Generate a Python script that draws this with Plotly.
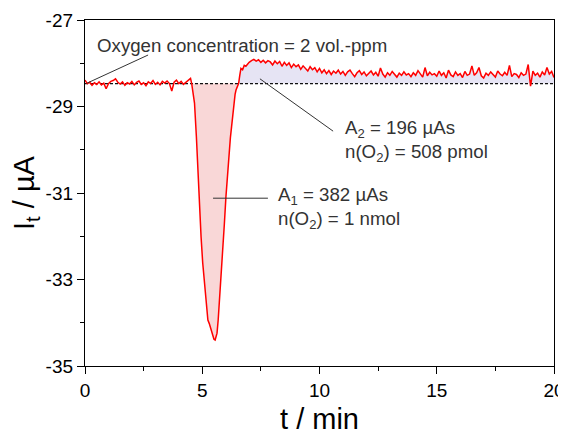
import plotly.graph_objects as go

# ---------------- data ----------------
baseline = -28.47

t_pre = [0.0, 0.1, 0.2, 0.3, 0.4, 0.5, 0.6, 0.7, 0.8, 0.9, 1.0, 1.1, 1.2, 1.3, 1.4, 1.5,
         1.6, 1.7, 1.8, 1.9, 2.0, 2.1, 2.2, 2.3, 2.4, 2.5, 2.6, 2.7, 2.8, 2.9, 3.0, 3.1,
         3.2, 3.3, 3.4, 3.5, 3.6, 3.7, 3.8, 3.9, 4.0, 4.1, 4.2, 4.3, 4.4, 4.5]
i_pre = [-28.39, -28.47, -28.44, -28.51, -28.45, -28.49, -28.43, -28.50, -28.46, -28.59,
         -28.47, -28.42, -28.40, -28.36, -28.44, -28.48, -28.43, -28.51, -28.45, -28.48,
         -28.42, -28.50, -28.44, -28.41, -28.49, -28.45, -28.52, -28.43, -28.47, -28.40,
         -28.49, -28.44, -28.50, -28.42, -28.46, -28.41, -28.47, -28.64, -28.44, -28.39,
         -28.47, -28.42, -28.49, -28.44, -28.41, -28.35]

t_dip = [4.55, 4.60, 4.67, 4.75, 4.81, 4.88, 4.95, 5.02, 5.10, 5.17, 5.24, 5.30, 5.34,
         5.40, 5.45, 5.50, 5.55, 5.60, 5.63, 5.68, 5.73, 5.80, 5.87, 5.94, 6.01, 6.08,
         6.16, 6.20, 6.25, 6.30, 6.34, 6.40, 6.44, 6.50, 6.55]
i_dip = [-28.47, -28.65, -28.92, -29.70, -30.47, -31.25, -32.02, -32.62, -33.17, -33.60,
         -33.94, -34.02, -34.10, -34.24, -34.33, -34.38, -34.40, -34.33, -34.24, -33.93,
         -33.54, -32.97, -32.39, -31.74, -31.09, -30.50, -29.94, -29.72, -29.47, -29.18,
         -28.92, -28.72, -28.62, -28.54, -28.47]

t_post = [6.55, 6.60, 6.65, 6.72, 6.79, 6.86, 6.93, 7.0,
          7.1, 7.2, 7.3, 7.4, 7.5, 7.6, 7.7, 7.8, 7.9, 8.0, 8.1, 8.2, 8.3, 8.4, 8.5, 8.6,
          8.7, 8.8, 8.9, 9.0, 9.1, 9.2, 9.3, 9.4, 9.5, 9.6, 9.7, 9.8, 9.9, 10.0,
          10.1, 10.2, 10.3, 10.4, 10.5, 10.6, 10.7, 10.8, 10.9, 11.0, 11.1, 11.2, 11.3,
          11.4, 11.5, 11.6, 11.7, 11.8, 11.9, 12.0, 12.1, 12.2, 12.3, 12.4, 12.5, 12.6,
          12.7, 12.8, 12.9, 13.0, 13.1, 13.2, 13.3, 13.4, 13.5, 13.6, 13.7, 13.8, 13.9,
          14.0, 14.1, 14.2, 14.3, 14.4, 14.5, 14.6, 14.7, 14.8, 14.9, 15.0,
          15.1, 15.2, 15.3, 15.4, 15.5, 15.6, 15.7, 15.8, 15.9, 16.0, 16.1, 16.2, 16.3,
          16.4, 16.5, 16.6, 16.7, 16.8, 16.9, 17.0, 17.1, 17.2, 17.3, 17.4, 17.5, 17.6,
          17.7, 17.8, 17.9, 18.0, 18.1, 18.2, 18.3, 18.4, 18.5, 18.6, 18.7, 18.8, 18.9,
          19.0, 19.1, 19.2, 19.3, 19.4, 19.5, 19.6, 19.7, 19.8, 19.9, 20.0]
i_post = [-28.47, -28.28, -28.12, -28.15, -28.05, -28.07, -28.01, -27.98,
          -27.94, -27.91, -27.95, -27.92, -27.98, -27.93, -27.99, -27.94, -27.97, -28.04,
          -27.95, -28.01, -27.96, -28.07, -27.98, -28.05, -27.99, -28.10, -28.02, -28.08,
          -28.04, -28.14, -28.06, -28.11, -28.18, -28.08, -28.15, -28.10, -28.20, -28.12,
          -28.22, -28.15, -28.24, -28.17, -28.26, -28.18, -28.23, -28.16, -28.25, -28.19,
          -28.28, -28.20, -28.16, -28.24, -28.31, -28.22, -28.17, -28.26, -28.20, -28.29,
          -28.23, -28.18, -28.27, -28.21, -28.30, -28.11, -28.25, -28.32, -28.22, -28.28,
          -28.19, -28.26, -28.32, -28.23, -28.28, -28.20, -28.27, -28.24, -28.31, -28.22,
          -28.28, -28.17, -28.26, -28.32, -28.10, -28.29, -28.21, -28.27, -28.24, -28.30,
          -28.18, -28.28, -28.22, -28.34, -28.16, -28.27, -28.31, -28.20, -28.28, -28.24,
          -28.33, -28.19, -28.28, -28.25, -28.06, -28.28, -28.22, -28.10, -28.29, -28.34,
          -28.23, -28.28, -28.20, -28.26, -28.32, -28.18, -28.25, -28.29, -28.21, -28.28,
          -28.05, -28.31, -28.24, -28.26, -28.33, -28.22, -28.28, -28.25, -28.03, -28.53,
          -28.18, -28.28, -28.23, -28.32, -28.20, -28.27, -28.10, -28.25, -28.19, -28.33]

x_ticks = [0, 5, 10, 15, 20]
y_ticks = [-35, -33, -31, -29, -27]

# annotation anchors (data units)
oxy_line_x = [0.09, 2.69]
oxy_line_y = [-28.46, -27.81]
a2_line_x = [7.46, 10.58]
a2_line_y = [-28.36, -29.57]
a1_line_x = [5.46, 7.80]
a1_line_y = [-31.12, -31.12]

# ---------------- figure ----------------
FONT = "Liberation Sans, Arial, sans-serif"
fig = go.Figure()

# red filled area (A1)
fig.add_trace(go.Scatter(x=t_dip, y=[baseline] * len(t_dip), mode="lines",
                         line=dict(width=0), hoverinfo="skip", showlegend=False))
fig.add_trace(go.Scatter(x=t_dip, y=i_dip, mode="lines", fill="tonexty",
                         fillcolor="rgba(240,160,160,0.42)", line=dict(width=0),
                         hoverinfo="skip", showlegend=False))
# lavender filled area (A2)
fig.add_trace(go.Scatter(x=t_post, y=[baseline] * len(t_post), mode="lines",
                         line=dict(width=0), hoverinfo="skip", showlegend=False))
fig.add_trace(go.Scatter(x=t_post, y=i_post, mode="lines", fill="tonexty",
                         fillcolor="rgba(200,195,230,0.45)", line=dict(width=0),
                         hoverinfo="skip", showlegend=False))

# dashed baseline
fig.add_trace(go.Scatter(x=[x_ticks[0], x_ticks[-1]], y=[baseline, baseline], mode="lines",
                         line=dict(color="#111", width=1.2, dash="3px,2px"),
                         showlegend=False))

# main trace
t_all = t_pre + t_dip + t_post[1:]
i_all = i_pre + i_dip + i_post[1:]
fig.add_trace(go.Scatter(x=t_all, y=i_all, mode="lines",
                         line=dict(color="#ff0000", width=1.5), showlegend=False))

# connector lines
for lx, ly in [(oxy_line_x, oxy_line_y), (a2_line_x, a2_line_y), (a1_line_x, a1_line_y)]:
    fig.add_trace(go.Scatter(x=lx, y=ly, mode="lines", line=dict(color="#333", width=1),
                             showlegend=False, hoverinfo="skip"))

tf = dict(family=FONT, size=18.7, color="#333")
fig.add_annotation(x=0.42, y=-27.58, xref="x", yref="y", text="Oxygen concentration = 2 vol.-ppm",
                   showarrow=False, xanchor="left", yanchor="middle", font=tf)
fig.add_annotation(x=11.0, y=-29.80, xref="x", yref="y",
                   text="A<sub>2</sub> = 196 µAs<br>n(O<sub>2</sub>) = 508 pmol",
                   showarrow=False, xanchor="left", yanchor="middle", align="left", font=tf)
fig.add_annotation(x=8.14, y=-31.35, xref="x", yref="y",
                   text="A<sub>1</sub> = 382 µAs<br>n(O<sub>2</sub>) = 1 nmol",
                   showarrow=False, xanchor="left", yanchor="middle", align="left", font=tf)

axis_common = dict(showline=True, linecolor="black", linewidth=1.3, mirror=True,
                   ticks="outside", ticklen=7, tickwidth=1.3, tickcolor="black",
                   showgrid=False, zeroline=False, automargin=False,
                   ticklabeloverflow="allow",
                   tickfont=dict(family=FONT, size=19, color="black"))

fig.update_xaxes(range=[0, 20], tickvals=x_ticks, ticktext=[str(v) for v in x_ticks],
                 minor=dict(dtick=2.5, tick0=0, ticks="outside", ticklen=4, tickwidth=1.2,
                            tickcolor="black"),
                 title=dict(text="t / min", font=dict(family=FONT, size=29, color="black"),
                            standoff=12),
                 **axis_common)
fig.update_yaxes(range=[-35, -27], tickvals=y_ticks, ticktext=[str(v) for v in y_ticks],
                 minor=dict(dtick=1, tick0=-35, ticks="outside", ticklen=4, tickwidth=1.2,
                            tickcolor="black"),
                 title=dict(text="I<sub>t</sub> / µA", font=dict(family=FONT, size=29, color="black"),
                            standoff=10),
                 **axis_common)

# the page body adds an 8 px margin, so the figure is sized to fill the rest of the window
fig.update_layout(width=558, height=427, margin=dict(l=77, r=12, t=12, b=69),
                  plot_bgcolor="white", paper_bgcolor="white", showlegend=False)

fig.write_html("out.html")
